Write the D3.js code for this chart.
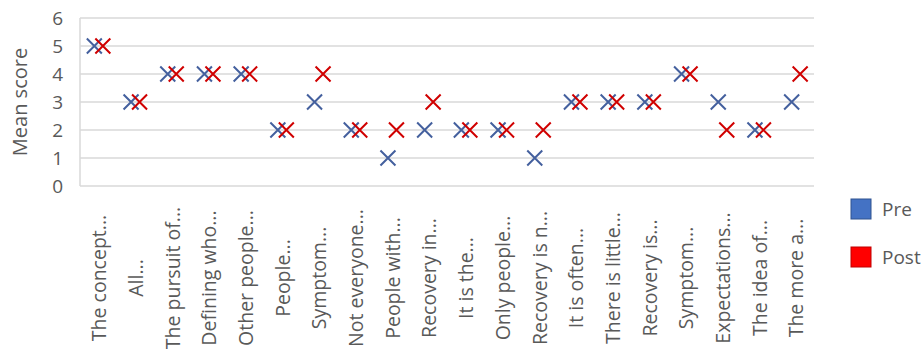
<!DOCTYPE html>
<html>
<head>
<meta charset="utf-8">
<script src="https://cdn.jsdelivr.net/npm/d3@7"></script>
<style>
  body { margin: 0; background: #fff; }
  text { font-family: "Open Sans", "Noto Sans", sans-serif; fill: #595959; }
</style>
</head>
<body>
<div id="chart"></div>
<script>
// statements (truncated as in the original)
let labels = ["The concept...", "All...", "The pursuit of...", "Defining who...", "Other people...",
  "People...", "Symptom...", "Not everyone...", "People with...", "Recovery in...",
  "It is the...", "Only people...", "Recovery is n...", "It is often...", "There is little...",
  "Recovery is...", "Symptom...", "Expectations...", "The idea of...", "The more a..."];
let preScores = [5, 3, 4, 4, 4, 2, 3, 2, 1, 2, 2, 2, 1, 3, 3, 3, 4, 3, 2, 3];
let postScores = [5, 3, 4, 4, 4, 2, 4, 2, 2, 3, 2, 2, 2, 3, 3, 3, 4, 2, 2, 4];
let yTicks = [0, 1, 2, 3, 4, 5, 6];

let svgWidth = 923;
let svgHeight = 353;
let margin = { top: 18, right: 109, bottom: 167, left: 80 };
let width = svgWidth - margin.left - margin.right;
let height = svgHeight - margin.top - margin.bottom;

let svg = d3.select("#chart")
    .append("svg")
    .attr("width", svgWidth)
    .attr("height", svgHeight);

let g = svg.append("g")
    .attr("transform", `translate(${margin.left}, ${margin.top})`);

let xScale = d3.scaleBand()
    .domain(d3.range(labels.length))
    .range([0, width]);

let yScale = d3.scaleLinear()
    .domain([0, 6])
    .range([height, 0]);

// gridlines
g.selectAll(".grid")
    .data(yTicks)
    .enter()
    .append("line")
    .attr("x1", 0)
    .attr("x2", width)
    .attr("y1", d => yScale(d))
    .attr("y2", d => yScale(d))
    .attr("stroke", "#d9d9d9")
    .attr("stroke-width", 1.5);

// left axis line
g.append("line")
    .attr("x1", 0).attr("x2", 0)
    .attr("y1", 0).attr("y2", height)
    .attr("stroke", "#d9d9d9")
    .attr("stroke-width", 1.5);

// y tick labels
g.selectAll(".ytick")
    .data(yTicks)
    .enter()
    .append("text")
    .attr("x", -17)
    .attr("y", d => yScale(d))
    .attr("dy", "0.35em")
    .attr("text-anchor", "end")
    .style("font-size", "19px")
    .text(d => d);

// y axis title
g.append("text")
    .attr("transform", `translate(${-60}, ${height / 2}) rotate(-90)`)
    .attr("text-anchor", "middle")
    .attr("dy", "0.35em")
    .style("font-size", "20px")
    .text("Mean score");

// x tick labels, rotated
g.selectAll(".xtick")
    .data(labels)
    .enter()
    .append("text")
    .attr("transform", (d, i) => `translate(${xScale(i) + xScale.bandwidth() / 2 + 1}, ${height + 92}) rotate(-90)`)
    .attr("text-anchor", "middle")
    .attr("dy", "0.35em")
    .style("font-size", "19.5px")
    .text(d => d);

// X shaped markers
function drawMarks(values, offset, color) {
    let s = 7.5;
    let marks = g.selectAll(null)
        .data(values)
        .enter()
        .append("path")
        .attr("transform", (d, i) => `translate(${xScale(i) + xScale.bandwidth() / 2 + offset}, ${yScale(d)})`)
        .attr("d", `M${-s},${-s}L${s},${s}M${-s},${s}L${s},${-s}`)
        .attr("stroke", color)
        .attr("stroke-width", 2)
        .attr("fill", "none");
    return marks;
}
drawMarks(preScores, -4, "#44609e");
drawMarks(postScores, 4.5, "#d00000");

// legend
let legend = svg.append("g")
    .attr("transform", "translate(851, 199)");
let legendItems = [{ name: "Pre", fill: "#4472c4", stroke: "#2f528f" },
                   { name: "Post", fill: "#ff0000", stroke: "#c00000" }];
legendItems.forEach(function(item, i) {
    legend.append("rect")
        .attr("x", 0)
        .attr("y", i * 48)
        .attr("width", 20)
        .attr("height", 20)
        .attr("fill", item.fill)
        .attr("stroke", item.stroke)
        .attr("stroke-width", 1);
    legend.append("text")
        .attr("x", 31)
        .attr("y", i * 48 + 10)
        .attr("dy", "0.35em")
        .style("font-size", "19px")
        .text(item.name);
});
</script>
</body>
</html>
